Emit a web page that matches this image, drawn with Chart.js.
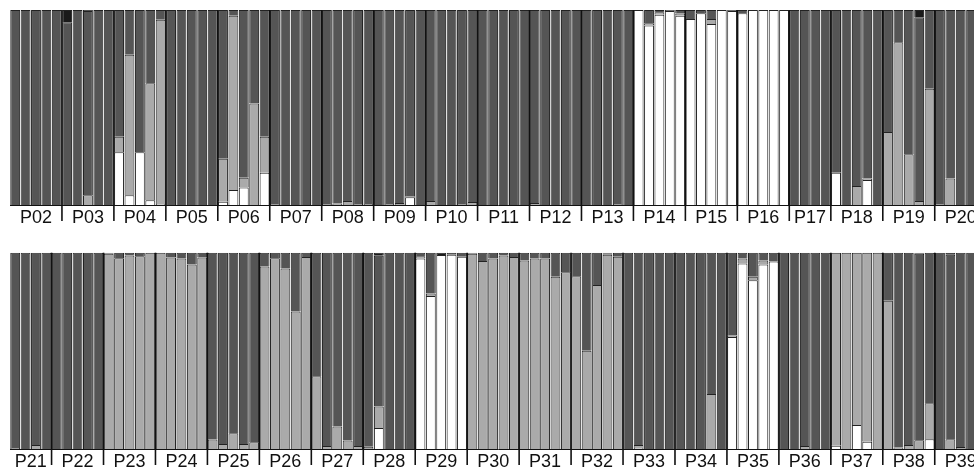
<!DOCTYPE html>
<html>
<head>
<meta charset="utf-8">
<script src="https://cdn.jsdelivr.net/npm/chart.js@4/dist/chart.umd.min.js"></script>
<style>
  html, body { margin: 0; padding: 0; background: #ffffff; overflow: hidden; width: 974px; height: 473px; }
  .row { position: absolute; left: 0; }
  #r1 { top: 0; }
  #r2 { top: 236px; }
</style>
</head>
<body>
<div class="row" id="r1"><canvas id="c1" width="990" height="236"></canvas></div>
<div class="row" id="r2"><canvas id="c2" width="990" height="237"></canvas></div>
<script>
// ---------- Row 1 ----------
const pops1  = ['P02','P03','P04','P05','P06','P07','P08','P09','P10','P11','P12','P13','P14','P15','P16','P17','P18','P19','P20'];
const sizes1 = [5,5,5,5,5,5,5,5,5,5,5,5,5,5,5,4,5,5,5];

const white1 = [
  0,0,0,0,0,            0,0,0,0,0,            0.27,0.05,0.27,0.025,0.005,
  0,0,0,0,0,            0.017,0.077,0.09,0,0.165, 0,0,0,0,0,
  0,0,0,0,0,            0,0,0,0.04,0,         0,0,0,0,0,
  0,0,0,0,0,            0,0,0,0,0,            0,0,0,0,0,
  1,0.92,0.976,0.995,0.97, 0.954,0.983,0.928,1,0.995, 0.983,1,1,1,1,
  0,0,0,0,              0.165,0,0,0.128,0,    0,0,0,0,0,
  0,0,0,0,0
];
const light1 = [
  0,0,0,0,0,            0,0,0.05,0,0,         0.08,0.72,0,0.6,0.945,
  0,0,0,0,0,            0.22,0.893,0.05,0.52,0.185, 0.005,0,0,0,0,
  0.005,0.008,0.02,0.005,0.005, 0,0.005,0.01,0.005,0, 0.02,0,0,0.005,0.015,
  0,0,0,0,0,            0.01,0,0,0,0,         0,0,0,0.005,0,
  0,0.012,0.012,0,0.012, 0,0,0.026,0,0,       0,0,0,0,0,
  0,0,0,0,              0,0,0.097,0.008,0,    0.375,0.835,0.26,0.02,0.596,
  0.005,0.136,0,0,0
];
const dark1 = [
  1,1,1,1,1,            0.937,1,0.945,1,1,    0.65,0.23,0.73,0.375,0.05,
  1,1,1,1,1,            0.763,0.03,0.86,0.48,0.65, 0.995,1,1,1,1,
  0.995,0.992,0.98,0.995,0.995, 1,0.995,0.99,0.955,1, 0.98,1,1,0.995,0.985,
  1,1,1,1,1,            0.99,1,1,1,1,         1,1,1,0.995,1,
  0,0.068,0.012,0.005,0.018, 0.046,0.017,0.046,0,0.005, 0.017,0,0,0,0,
  1,1,1,1,              0.835,1,0.903,0.864,1, 0.625,0.165,0.74,0.943,0.404,
  0.995,0.864,1,1,1
];
const black1 = [
  0,0,0,0,0,            0.063,0,0.005,0,0,    0,0,0,0,0,
  0,0,0,0,0,            0,0,0,0,0,            0,0,0,0,0,
  0,0,0,0,0,            0,0,0,0,0,            0,0,0,0,0,
  0,0,0,0,0,            0,0,0,0,0,            0,0,0,0,0,
  0,0,0,0,0,            0,0,0,0,0,            0,0,0,0,0,
  0,0,0,0,              0,0,0,0,0,            0,0,0,0.037,0,
  0,0,0,0,0
];

// ---------- Row 2 ----------
const pops2  = ['P21','P22','P23','P24','P25','P26','P27','P28','P29','P30','P31','P32','P33','P34','P35','P36','P37','P38','P39'];
const sizes2 = [4,5,5,5,5,5,5,5,5,5,5,5,5,5,5,5,5,5,5];

const white2 = [
  0,0,0,0,              0,0,0,0,0,            0,0,0,0,0,
  0,0,0,0,0,            0,0,0,0,0,            0,0,0,0,0,
  0,0,0,0,0,            0,0.107,0,0,0,        0.97,0.78,0.988,0.99,0.98,
  0,0,0,0,0,            0,0,0,0,0,            0,0,0,0,0,
  0,0.005,0,0,0,        0,0,0,0,0,            0.57,0.945,0.86,0.94,0.955,
  0,0,0,0,0,            0.017,0,0.122,0.037,0, 0,0,0,0,0.05,
  0,0,0,0,0
];
const light2 = [
  0.005,0,0.02,0,       0,0,0,0,0,            0.995,0.972,0.986,0.982,1,
  1,0.975,0.97,0.94,0.975, 0.048,0.025,0.08,0.025,0.035, 0.93,0.972,0.92,0.7,0.978,
  0.37,0.015,0.114,0.043,0.015, 0.012,0.11,0,0,0, 0.012,0.012,0,0,0,
  0.995,0.958,0.97,0.986,0.978, 0.96,0.97,0.97,0.877,0.9, 0.88,0.5,0.835,0.99,0.98,
  0,0.015,0,0,0,        0,0,0,0.28,0,         0.008,0.025,0.017,0.02,0,
  0,0,0.015,0,0,        0.983,1,0.878,0.963,1, 0.755,0.008,0.02,0.045,0.183,
  0,0.05,0.01,0,0
];
const dark2 = [
  0.995,1,0.98,1,       1,1,1,1,1,            0.005,0.028,0.014,0.018,0,
  0,0.025,0.03,0.06,0.025, 0.952,0.975,0.92,0.975,0.965, 0.07,0.028,0.08,0.3,0.022,
  0.63,0.985,0.886,0.957,0.985, 0.988,0.768,1,1,1, 0.018,0.208,0,0.01,0.02,
  0.005,0.042,0.03,0.014,0.022, 0.04,0.03,0.03,0.123,0.1, 0.12,0.5,0.165,0.005,0.02,
  1,0.98,1,1,1,         1,1,1,0.72,1,         0.422,0.03,0.123,0.04,0.045,
  1,1,0.985,1,1,        0,0,0,0,0,            0.245,0.992,0.98,0.95,0.767,
  1,0.94,0.99,1,1
];
const black2 = [
  0,0,0,0,              0,0,0,0,0,            0,0,0,0,0,
  0,0,0,0,0,            0,0,0,0,0,            0,0,0,0,0,
  0,0,0,0,0,            0,0.015,0,0,0,        0,0,0.012,0,0,
  0,0,0,0,0,            0,0,0,0,0,            0,0,0,0.005,0,
  0,0,0,0,0,            0,0,0,0,0,            0,0,0,0,0,
  0,0,0,0,0,            0,0,0,0,0,            0,0,0,0.005,0,
  0,0.01,0,0,0
];

const COLORS = { white: '#ffffff', light: '#aaaaaa', dark: '#555555', black: '#1a1a1a' };

function individualLabels(pops, sizes) {
  const out = [];
  pops.forEach((p, i) => { for (let k = 0; k < sizes[i]; k++) out.push(p + '_' + (k + 1)); });
  return out;
}

const popPlugin = {
  id: 'popPlugin',
  afterDatasetsDraw(chart, args, opts) {
    const { ctx, chartArea } = chart;
    const xs = chart.scales.x;
    const pops = opts.pops, sizes = opts.sizes;
    ctx.save();
    // baseline
    ctx.strokeStyle = '#111111';
    ctx.lineWidth = 1;
    ctx.beginPath();
    ctx.moveTo(chartArea.left, chartArea.bottom + 0.5);
    ctx.lineTo(chartArea.right, chartArea.bottom + 0.5);
    ctx.stroke();
    let start = 0;
    ctx.font = '18px "Liberation Sans", Arial, Helvetica, sans-serif';
    ctx.fillStyle = '#111111';
    ctx.textAlign = 'center';
    ctx.textBaseline = 'alphabetic';
    pops.forEach((p, i) => {
      const end = start + sizes[i] - 1;
      if (start > 0) {
        const sx = (xs.getPixelForValue(start - 1) + xs.getPixelForValue(start)) / 2;
        ctx.strokeStyle = '#111111';
        ctx.lineWidth = 1.6;
        ctx.beginPath();
        ctx.moveTo(sx, chartArea.top);
        ctx.lineTo(sx, chartArea.bottom + 16);
        ctx.stroke();
      }
      const cx = (xs.getPixelForValue(start) + xs.getPixelForValue(end)) / 2;
      ctx.fillText(p, cx, chartArea.bottom + 18);
      start = end + 1;
    });
    ctx.restore();
  }
};

function makeRow(canvasId, pops, sizes, w, l, d, b, pad) {
  const ds = (label, data, color) => ({
    label, data, backgroundColor: color, borderColor: '#222222', borderWidth: 1,
    barPercentage: 0.95, categoryPercentage: 1.0
  });
  return new Chart(document.getElementById(canvasId), {
    type: 'bar',
    data: {
      labels: individualLabels(pops, sizes),
      datasets: [
        ds('Cluster 1', w, COLORS.white),
        ds('Cluster 2', l, COLORS.light),
        ds('Cluster 3', d, COLORS.dark),
        ds('Cluster 4', b, COLORS.black)
      ]
    },
    options: {
      responsive: false,
      animation: false,
      layout: { padding: pad },
      plugins: {
        legend: { display: false },
        tooltip: { enabled: false },
        popPlugin: { pops, sizes }
      },
      scales: {
        x: { stacked: true, display: false },
        y: { stacked: true, display: false, min: 0, max: 1 }
      }
    },
    plugins: [popPlugin]
  });
}

makeRow('c1', pops1, sizes1, white1, light1, dark1, black1, { left: 10, top: 10, right: 3.3, bottom: 31 });
makeRow('c2', pops2, sizes2, white2, light2, dark2, black2, { left: 10, top: 16.7, right: 3.3, bottom: 24 });
</script>
</body>
</html>
